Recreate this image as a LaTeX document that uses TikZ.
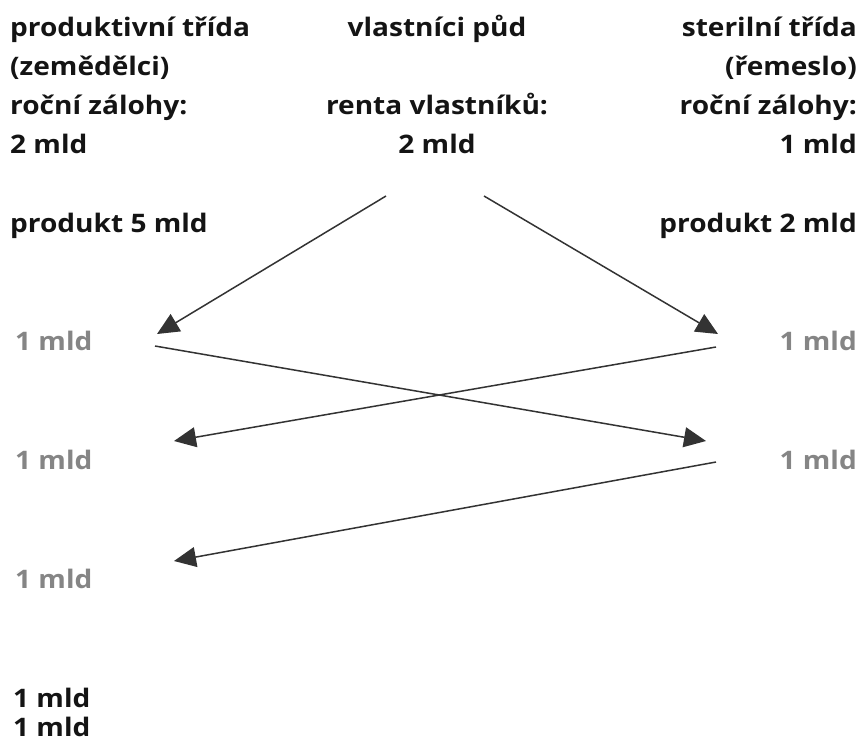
\documentclass[tikz,border=0pt]{standalone}
\usepackage{fontspec}
\setmainfont{Open Sans}[FakeStretch=1.1]
\usetikzlibrary{arrows.meta}
\definecolor{ink}{HTML}{141414}
\definecolor{graytxt}{HTML}{858585}
\definecolor{lineclr}{HTML}{333333}
\begin{document}
\begin{tikzpicture}[x=1pt,y=-1pt,
  lbl/.style={font=\fontsize{25.5}{30}\selectfont\bfseries, text=ink, inner sep=0pt},
  gry/.style={lbl, text=graytxt},
  arr/.style={draw=lineclr, line width=1.5pt, -{Triangle[length=22pt,width=20pt]}}]
\useasboundingbox (0,0) rectangle (866,747);
% left column
\node[lbl, anchor=base west] (l1) at (10,36) {produktivní třída};
\node[lbl, anchor=base west] (l2) at (10,75) {(zemědělci)};
\node[lbl, anchor=base west] (l3) at (10,114) {roční zálohy:};
\node[lbl, anchor=base west] (l4) at (10,153) {2 mld};
\node[lbl, anchor=base west] (l5) at (10,232) {produkt 5 mld};
% middle column
\node[lbl, anchor=base] (m1) at (437,36) {vlastníci půd};
\node[lbl, anchor=base] (m3) at (437,114) {renta vlastníků:};
\node[lbl, anchor=base] (m4) at (437,153) {2 mld};
% right column
\node[lbl, anchor=base east] (r1) at (857,36) {sterilní třída};
\node[lbl, anchor=base east] (r2) at (857,75) {(řemeslo)};
\node[lbl, anchor=base east] (r3) at (857,114) {roční zálohy:};
\node[lbl, anchor=base east] (r4) at (857,153) {1 mld};
\node[lbl, anchor=base east] (r5) at (857,232) {produkt 2 mld};
% gray flows
\node[gry, anchor=base west] (g1) at (15,350) {1 mld};
\node[gry, anchor=base west] (g2) at (15,469) {1 mld};
\node[gry, anchor=base west] (g3) at (15,588) {1 mld};
\node[gry, anchor=base east] (h1) at (857,350) {1 mld};
\node[gry, anchor=base east] (h2) at (857,469) {1 mld};
% bottom totals
\node[lbl, anchor=base west] (b1) at (13,707) {1 mld};
\node[lbl, anchor=base west] (b2) at (13,736) {1 mld};
% connector end points
\coordinate (a1s) at (386,196); \coordinate (a1e) at (157,334);
\coordinate (a2s) at (484,196); \coordinate (a2e) at (718,334);
\coordinate (a3s) at (155,346); \coordinate (a3e) at (706,441);
\coordinate (a4s) at (716,347); \coordinate (a4e) at (174,441);
\coordinate (a5s) at (716,462); \coordinate (a5e) at (174,561);
\draw[arr] (a1s) -- (a1e);
\draw[arr] (a2s) -- (a2e);
\draw[arr] (a3s) -- (a3e);
\draw[arr] (a4s) -- (a4e);
\draw[arr] (a5s) -- (a5e);
\end{tikzpicture}
\end{document}
